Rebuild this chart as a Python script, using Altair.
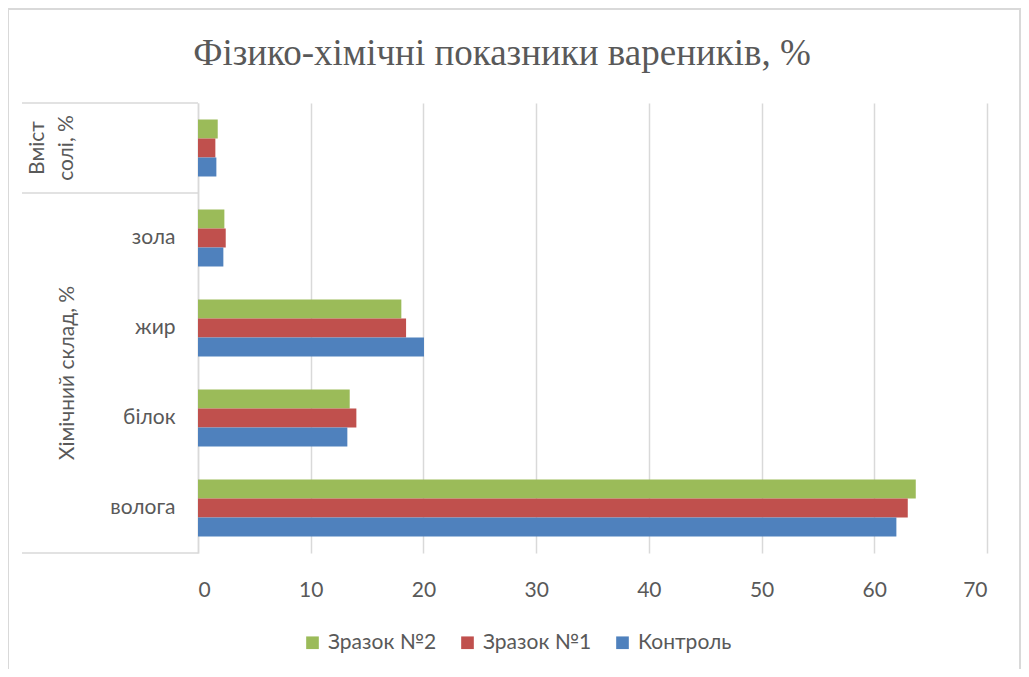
import altair as alt
import pandas as pd

# ---- data ----
categories = ["сіль", "зола", "жир", "білок", "волога"]   # top to bottom; "сіль" label is hidden
series = ["Зразок №2", "Зразок №1", "Контроль"]
zrazok2 = [1.75, 2.34, 18.04, 13.46, 63.68]
zrazok1 = [1.54, 2.46, 18.46, 14.05, 62.97]
kontrol = [1.63, 2.25, 20.05, 13.25, 61.96]
colors = ["#9BBB59", "#C0504D", "#4F81BD"]
x_ticks = [0, 10, 20, 30, 40, 50, 60, 70]
title_text = "Фізико-хімічні показники вареників, %"
salt_label = ["Вміст", "солі, %"]
chem_label = "Хімічний склад, %"

rows = []
for s, vals in zip(series, [zrazok2, zrazok1, kontrol]):
    for c, v in zip(categories, vals):
        rows.append({"cat": c, "series": s, "value": v})
df = pd.DataFrame(rows)

W, H = 789, 450
PL, PT, PR, PB = 190, 95, 34, 116
step = H / len(categories)
GRAY = "#595959"
LINE = "#d9d9d9"
FONT = "Lato"
FS = 21

y_scale = alt.Scale(domain=categories, paddingInner=0.3667, paddingOuter=0.18333)

bars = alt.Chart(df).mark_bar().encode(
    x=alt.X("value:Q",
            scale=alt.Scale(domain=[0, 70], nice=False),
            axis=alt.Axis(values=x_ticks, title=None, grid=True, gridColor=LINE,
                          gridWidth=1.5, domain=False, ticks=False,
                          labelFontSize=FS, labelColor=GRAY, labelFont=FONT,
                          labelPadding=26)),
    y=alt.Y("cat:N", scale=y_scale, sort=categories,
            axis=alt.Axis(title=None, ticks=False, domainColor=LINE, domainWidth=1.5,
                          labelFontSize=FS, labelColor=GRAY, labelFont=FONT,
                          labelPadding=23,
                          labelExpr="datum.value == 'сіль' ? '' : datum.value")),
    yOffset=alt.YOffset("series:N", sort=series,
                        scale=alt.Scale(domain=series, paddingInner=0, paddingOuter=0)),
    color=alt.Color("series:N",
                    scale=alt.Scale(domain=series, range=colors),
                    legend=alt.Legend(title=None, orient="none", direction="horizontal",
                                      legendX=104, legendY=529,
                                      symbolType="square", symbolSize=160,
                                      symbolStrokeWidth=0,
                                      labelFontSize=FS, labelColor=GRAY, labelFont=FONT,
                                      labelOffset=5, columnPadding=20)),
)

one = pd.DataFrame({"a": [0]})

# category axis frame lines (top, group separator, bottom)
frame_lines = alt.Chart(pd.DataFrame({"yy": [0, step, H]})).mark_rule(
    color=LINE, strokeWidth=1.5).encode(
    y=alt.Y("yy:Q", scale=alt.Scale(domain=[0, H], range=[0, H]), axis=None),
    x=alt.value(-176), x2=alt.value(0))

salt_text = alt.Chart(one).mark_text(
    angle=270, align="center", baseline="middle", fontSize=FS, font=FONT,
    color=GRAY, lineHeight=29).encode(
    x=alt.value(-160), y=alt.value(step / 2), text=alt.value(salt_label))

chem_text = alt.Chart(one).mark_text(
    angle=270, align="center", baseline="middle", fontSize=FS, font=FONT,
    color=GRAY).encode(
    x=alt.value(-130), y=alt.value(3 * step), text=alt.value(chem_label))

title = alt.Chart(one).mark_text(
    align="center", baseline="alphabetic", fontSize=37, font="Liberation Serif",
    color=GRAY).encode(
    x=alt.value(304), y=alt.value(-38), text=alt.value(title_text))

border = alt.Chart(one).mark_rect(fill=None, stroke=LINE, strokeWidth=2).encode(
    x=alt.value(-190), x2=alt.value(822), y=alt.value(-94), y2=alt.value(700))

chart = alt.layer(border, bars, frame_lines, salt_text, chem_text, title).resolve_scale(
    y="independent"
).properties(
    width=W, height=H,
    autosize=alt.AutoSizeParams(type="none"),
    padding={"left": PL, "top": PT, "right": PR, "bottom": PB},
).configure_view(stroke=None)

chart.save("out.html", embed_options={"renderer": "svg", "actions": False})
